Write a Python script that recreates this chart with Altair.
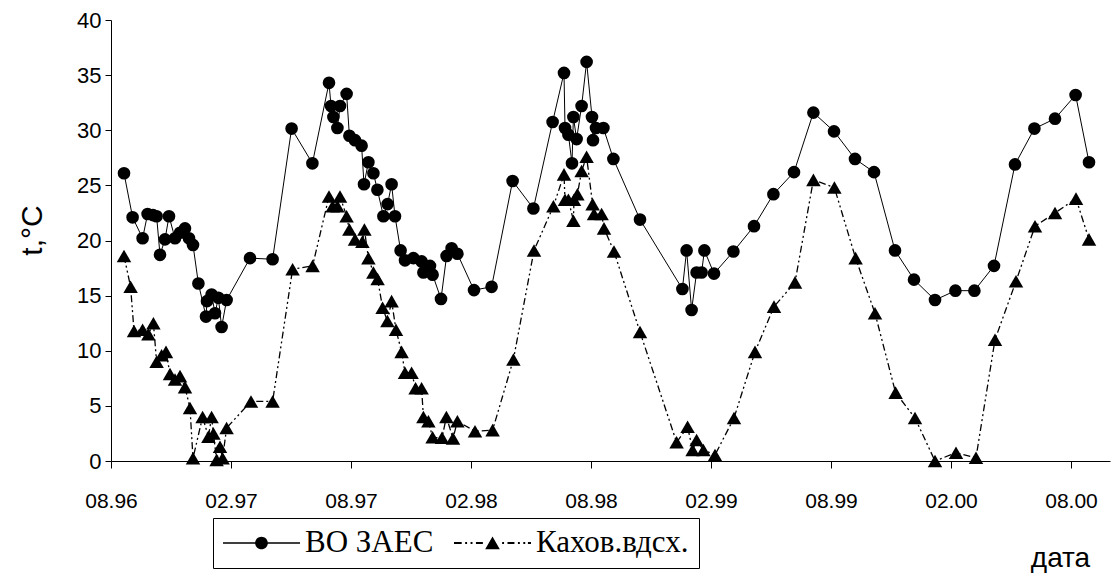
import altair as alt
import pandas as pd

tick_labels = ["08.96", "02.97", "08.97", "02.98", "08.98", "02.99", "08.99", "02.00", "08.00"]
tick_months = [0, 6, 12, 18, 24, 30, 36, 42, 48]
series_names = ["ВО ЗАЕС", "Кахов.вдсх."]
y_ticks = [0, 5, 10, 15, 20, 25, 30, 35, 40]

# months since 08.96
zaes_month = [0.65, 1.08, 1.58, 1.83, 2.1, 2.28, 2.45, 2.7, 2.9, 3.2, 3.45, 3.7, 3.9, 4.1,
              4.37, 4.75, 4.8, 5.03, 5.2, 5.37, 5.53, 5.78, 6.95, 8.08, 9.03, 10.07, 10.9,
              11.0, 11.12, 11.32, 11.45, 11.78, 11.92, 12.2, 12.53, 12.65, 12.87, 13.12,
              13.32, 13.62, 13.83, 14.03, 14.2, 14.48, 14.7, 15.12, 15.53, 15.62, 15.95,
              16.08, 16.5, 16.78, 17.03, 17.32, 18.15, 19.03, 20.08, 21.12, 22.08, 22.65,
              22.7, 22.87, 23.05, 23.12, 23.28, 23.53, 23.78, 24.05, 24.1, 24.25, 24.62,
              25.12, 26.45, 28.57, 28.78, 29.03, 29.28, 29.53, 29.67, 30.15, 31.12, 32.15,
              33.12, 34.15, 35.12, 36.15, 37.2, 38.15, 39.2, 40.15, 41.2, 42.22, 43.17,
              44.15, 45.2, 46.17, 47.2, 48.23, 48.9]
zaes_temp = [26.1, 22.1, 20.2, 22.4, 22.3, 22.2, 18.7, 20.1, 22.2, 20.2, 20.7, 21.1, 20.2, 19.6,
             16.1, 13.1, 14.5, 15.1, 13.4, 14.8, 12.15, 14.6, 18.4, 18.3, 30.15, 27.0, 34.3,
             32.2, 31.2, 30.2, 32.2, 33.3, 29.5, 29.1, 28.6, 25.1, 27.1, 26.1,
             24.6, 22.2, 23.3, 25.1, 22.2, 19.1, 18.2, 18.4, 18.1, 17.1, 17.7,
             16.9, 14.7, 18.6, 19.3, 18.8, 15.5, 15.8, 25.4, 22.9, 30.75, 35.2,
             30.2, 29.6, 27.0, 31.2, 29.2, 32.2, 36.2, 31.2, 29.1, 30.2, 30.2,
             27.4, 21.9, 15.6, 19.1, 13.7, 17.1, 17.1, 19.1, 17.0, 19.0, 21.3,
             24.2, 26.2, 31.6, 29.9, 27.4, 26.2, 19.1, 16.45, 14.6, 15.45, 15.45,
             17.7, 26.9, 30.15, 31.05, 33.2, 27.1]

kakh_month = [0.65, 0.98, 1.15, 1.58, 1.87, 2.12, 2.28, 2.53, 2.75, 2.95, 3.2, 3.45, 3.7, 3.95,
              4.1, 4.58, 4.87, 5.03, 5.12, 5.28, 5.45, 5.58, 5.78, 7.0, 8.08, 9.08, 10.08,
              10.9, 11.08, 11.32, 11.45, 11.78, 11.92, 12.2, 12.57, 12.67, 12.87, 13.12,
              13.33, 13.58, 13.82, 14.03, 14.25, 14.53, 14.7, 15.03, 15.23, 15.53, 15.62,
              15.87, 16.08, 16.55, 16.77, 17.1, 17.32, 18.2, 19.08, 20.12, 21.15, 22.12,
              22.65, 22.7, 22.87, 23.12, 23.15, 23.32, 23.53, 23.78, 24.08, 24.15, 24.53,
              24.65, 25.15, 26.45, 28.28, 28.83, 29.08, 29.28, 29.62, 30.2, 31.15, 32.2,
              33.15, 34.2, 35.12, 36.17, 37.23, 38.2, 39.23, 40.2, 41.2, 42.25, 43.25,
              44.2, 45.25, 46.2, 47.2, 48.25, 48.9]
kakh_temp = [18.6, 15.8, 11.8, 11.9, 11.5, 12.5, 9.0, 9.6, 9.9, 7.9, 7.4, 7.7, 6.7, 4.8,
             0.25, 4.0, 2.2, 4.0, 2.5, 0.1, 1.3, 0.25, 3.0, 5.4, 5.4, 17.4, 17.7,
             24.0, 23.1, 23.1, 24.0, 22.2, 21.0, 20.1, 19.9, 21.0, 18.4, 17.1,
             16.5, 13.9, 12.7, 14.5, 11.9, 9.9, 8.0, 8.0, 6.6, 6.6, 4.0,
             3.6, 2.15, 2.1, 4.0, 2.05, 3.6, 2.7, 2.8, 9.2, 19.1, 23.1,
             26.0, 23.7, 23.7, 21.8, 23.7, 24.2, 26.3, 27.6, 23.3, 22.4, 22.4,
             21.1, 19.0, 11.7, 1.7, 3.1, 1.0, 1.9, 1.0, 0.55, 3.9, 9.9,
             14.0, 16.2, 25.5, 24.8, 18.4, 13.4, 6.2, 3.9, 0.0, 0.75, 0.3,
             11.0, 16.3, 21.3, 22.5, 23.8, 20.1]

zdf = pd.DataFrame({"m": zaes_month, "t": zaes_temp, "series": series_names[0]})
kdf = pd.DataFrame({"m": kakh_month, "t": kakh_temp, "series": series_names[1]})
leg_df = pd.DataFrame({"series": series_names, "m": [1, 2], "t": [-30, -30]})

label_expr = "[" + ",".join("'" + s + "'" for s in tick_labels) + "][round(datum.value / 6)]"

x_enc = alt.X(
    "m:Q",
    scale=alt.Scale(domain=[0, 49.95], nice=False, zero=False),
    axis=alt.Axis(
        values=tick_months, labelExpr=label_expr, title="дата", grid=False,
        labelFont="Liberation Sans", labelFontSize=21, labelColor="black",
        labelBaseline="alphabetic", labelPadding=39, tickSize=7, labelFlush=False,
        labelOverlap=False, domainColor="black", tickColor="black",
        titleFont="Liberation Sans", titleFontSize=28, titleFontWeight="normal",
        titleColor="black", titleX=949, titleY=105, titleAlign="center",
        titleBaseline="alphabetic",
    ),
)
y_enc = alt.Y(
    "t:Q",
    scale=alt.Scale(domain=[0, 40], nice=False),
    axis=alt.Axis(
        values=y_ticks, title="t,°C", grid=False,
        labelFont="Liberation Sans", labelFontSize=22, labelColor="black",
        labelPadding=4, tickSize=6, labelBaseline="middle",
        domainColor="black", tickColor="black",
        titleFont="Liberation Sans", titleFontSize=30, titleFontWeight="normal",
        titleColor="black", titleX=-79, titleY=210, titleAngle=270,
        titleAlign="center", titleBaseline="middle",
    ),
)

z_line = alt.Chart(zdf).mark_line(color="black", strokeWidth=1).encode(x=x_enc, y=y_enc)
k_line = alt.Chart(kdf).mark_line(color="black", strokeWidth=1.3,
                                  strokeDash=[7, 3, 2, 3, 2, 3]).encode(x=x_enc, y=y_enc)
z_pts = alt.Chart(zdf).mark_point(shape="circle", filled=True, color="black", opacity=1,
                                  size=160).encode(x=x_enc, y=y_enc)
k_pts = alt.Chart(kdf).mark_point(shape="triangle-up", filled=True, color="black", opacity=1,
                                  size=210).encode(x=x_enc, y=y_enc)


def seg(a, b, h):
    return f"M{a},{-h}L{b},{-h}L{b},{h}L{a},{h}Z"


# legend glyphs (unit square -1..1): line through a marker, built from filled pieces
path_circle = seg(-1, 1, 0.019) + "M0.165,0A0.165,0.165,0,1,1,-0.165,0A0.165,0.165,0,1,1,0.165,0Z"
dash_pieces = [(-1, -0.8), (-0.71, -0.66), (-0.57, -0.52), (-0.43, -0.25),
               (0.25, 0.3), (0.39, 0.57), (0.66, 0.71), (0.8, 0.85), (0.92, 1)]
path_tri = "".join(seg(a, b, 0.024) for a, b in dash_pieces) + "M0,-0.17L0.19,0.16L-0.19,0.16Z"

serif = "Liberation Serif, Times New Roman, serif"

legend_layer = alt.Chart(leg_df).mark_point(
    filled=True, clip=True, fill="black", opacity=1
).encode(
    x=x_enc, y=y_enc,
    shape=alt.Shape(
        "series:N",
        scale=alt.Scale(domain=series_names, range=[path_circle, path_tri]),
        legend=alt.Legend(
            title=None, orient="none", legendX=102, legendY=498, direction="horizontal",
            symbolSize=5929, clipHeight=30, labelFont=serif, labelFontSize=31,
            labelColor="black", labelOffset=5, columnPadding=20, padding=10,
            strokeColor="black", fillColor="white", symbolStrokeWidth=0,
            symbolFillColor="black", symbolOpacity=1,
            labelLimit=400, symbolOffset=0,
        ),
    ),
)

chart = alt.layer(z_line, k_line, z_pts, k_pts, legend_layer).resolve_scale(
    shape="independent"
).properties(
    width=999, height=441,
    padding={"left": 111, "top": 20, "right": 1, "bottom": 113},
    autosize=alt.AutoSizeParams(type="none"),
    background="white",
).configure_view(strokeWidth=0).configure_legend(labelFont=serif)

chart.save("out.html", embed_options={"renderer": "svg", "actions": False})
